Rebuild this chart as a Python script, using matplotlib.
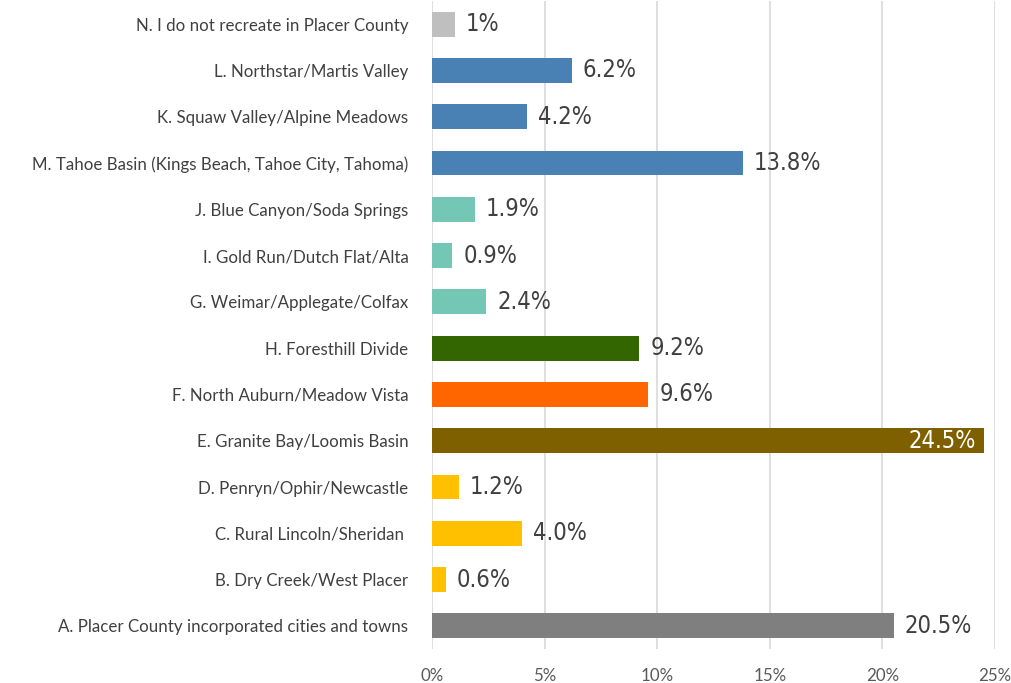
import matplotlib
matplotlib.use("Agg")
import matplotlib.pyplot as plt
from matplotlib.ticker import FuncFormatter

categories = [
    "N. I do not recreate in Placer County",
    "L. Northstar/Martis Valley",
    "K. Squaw Valley/Alpine Meadows",
    "M. Tahoe Basin (Kings Beach, Tahoe City, Tahoma)",
    "J. Blue Canyon/Soda Springs",
    "I. Gold Run/Dutch Flat/Alta",
    "G. Weimar/Applegate/Colfax",
    "H. Foresthill Divide",
    "F. North Auburn/Meadow Vista",
    "E. Granite Bay/Loomis Basin",
    "D. Penryn/Ophir/Newcastle",
    "C. Rural Lincoln/Sheridan ",
    "B. Dry Creek/West Placer",
    "A. Placer County incorporated cities and towns",
]
values = [1.0, 6.2, 4.2, 13.8, 1.9, 0.9, 2.4, 9.2, 9.6, 24.5, 1.2, 4.0, 0.6, 20.5]
value_labels = ["1%", "6.2%", "4.2%", "13.8%", "1.9%", "0.9%", "2.4%", "9.2%",
                "9.6%", "24.5%", "1.2%", "4.0%", "0.6%", "20.5%"]
colors = ["#BFBFBF", "#4A81B5", "#4A81B5", "#4A81B5", "#73C7B4", "#73C7B4", "#73C7B4",
          "#336600", "#FF6600", "#7F6000", "#FFC000", "#FFC000", "#FFC000", "#7F7F7F"]
xticks = [0, 5, 10, 15, 20, 25]

fig = plt.figure(figsize=(10.11, 6.83), dpi=100)
ax = fig.add_axes([432/1011, 1 - 649/683, (995-432)/1011, 648/683])

n = len(categories)
ypos = list(range(n))
ax.barh(ypos, values, height=0.54, color=colors, zorder=3)
ax.set_ylim(n - 0.5, -0.5)
ax.set_xlim(0, 25)
ax.set_xticks(xticks)
ax.xaxis.set_major_formatter(FuncFormatter(lambda v, p: f"{v:.0f}%"))
ax.set_yticks(ypos)
ax.set_yticklabels(categories, fontsize=12.2, color="#404040", family="Lato")
ax.tick_params(axis="y", length=0, pad=17)
ax.tick_params(axis="x", length=0, pad=14, labelsize=12.2, labelcolor="#595959")
for lbl in ax.get_xticklabels():
    lbl.set_family("Lato")
ax.grid(axis="x", color="#D9D9D9", linewidth=1.2, zorder=0)
for s in ax.spines.values():
    s.set_visible(False)

for i, (v, lab) in enumerate(zip(values, value_labels)):
    if v > 24:
        ax.annotate(lab, (v, i), xytext=(-6, 0), textcoords="offset points",
                    ha="right", va="center", fontsize=17, color="white",
                    family="DejaVu Sans", stretch="condensed", fontweight="light")
    else:
        ax.annotate(lab, (v, i), xytext=(8, 0), textcoords="offset points",
                    ha="left", va="center", fontsize=17, color="#404040",
                    family="DejaVu Sans", stretch="condensed", fontweight="light")

fig.savefig("out.png", dpi=100)
